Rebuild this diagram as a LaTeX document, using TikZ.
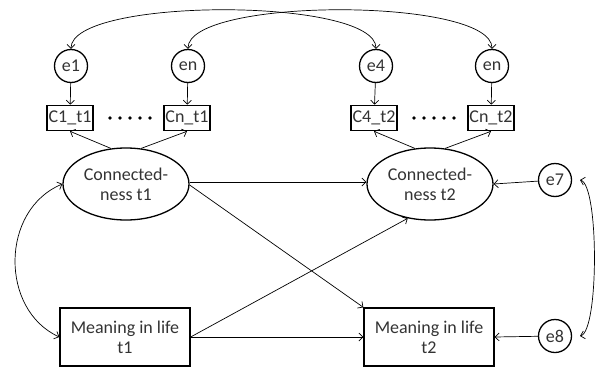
\documentclass[tikz,border=0pt]{standalone}
\usepackage{fontspec}
\setmainfont{Carlito}
\usetikzlibrary{arrows.meta,shapes.geometric}
\begin{document}
\begin{tikzpicture}[x=1pt,y=-1pt,
  every node/.style={font=\fontsize{18}{20}\selectfont, text=black!80},
  err/.style={circle,draw,line width=1.3pt,minimum size=33pt,inner sep=0pt},
  ind/.style={rectangle,draw,line width=1.6pt,minimum width=46pt,minimum height=25pt,inner sep=0pt},
  lat/.style={ellipse,draw,line width=1.3pt,minimum width=126pt,minimum height=72pt,align=center,inner sep=0pt},
  obs/.style={rectangle,draw,line width=1.3pt,minimum width=130pt,minimum height=58pt,align=center,inner sep=0pt},
  arr/.style={line width=0.7pt,-{Straight Barb[length=4pt,width=8pt]}},
  cov/.style={line width=0.7pt,{Straight Barb[length=4pt,width=8pt]}-{Straight Barb[length=4pt,width=8pt]}}
]
\useasboundingbox (0,0) rectangle (595,370);
\node[err] (e1) at (71,66) {e1};
\node[err] (ena) at (188,66) {en};
\node[err] (e4) at (376,66) {e4};
\node[err] (enb) at (492,66) {en};
\node[ind] (c1) at (70,118) {C1\_t1};
\node[ind] (cna) at (187,118) {Cn\_t1};
\node[ind] (c4) at (374,118) {C4\_t2};
\node[ind] (cnb) at (491,118) {Cn\_t2};
\foreach \x in {110,120,130,140,150} {\fill (\x,118) circle (1.8pt);}
\foreach \x in {414,424,434,444,454} {\fill (\x,118) circle (1.8pt);}
\node[lat] (l1) at (126,184) {Connected-\\ness t1};
\node[lat] (l2) at (430,184) {Connected-\\ness t2};
\node[obs] (m1) at (125,337) {Meaning in life\\t1};
\node[obs] (m2) at (429,337) {Meaning in life\\t2};
\node[err] (e7) at (555,180) {e7};
\node[err] (e8) at (555,336) {e8};
\coordinate (e7r) at (580,180);
\coordinate (e8r) at (580,336);

\draw[arr] (e1) -- (c1);
\draw[arr] (ena) -- (cna);
\draw[arr] (e4) -- (c4);
\draw[arr] (enb) -- (cnb);
\draw[arr] (l1.113) -- (c1.south);
\draw[arr] (l1.67) -- (cna.south);
\draw[arr] (l2.113) -- (c4.south);
\draw[arr] (l2.67) -- (cnb.south);
\draw[arr] (l1.east) ++(0,-2) coordinate (l1e) -- (l2.west |- l1e);
\draw[arr] (l1.east) ++(0,1) -- (m2.north west);
\draw[arr] (m1.east) -- (m2.west);
\draw[arr] (m1.east) -- (l2.237);
\draw[arr] (e7) -- (l2.east);
\draw[arr] (e8) -- (m2.east);
\draw[cov] (e1.north) .. controls (71,-3) and (376,-3) .. (e4.north);
\draw[cov] (ena.north) .. controls (188,-3) and (492,-3) .. (enb.north);
\draw[cov] (l1.west) .. controls (0,210) and (0,310) .. (m1.west);
\draw[cov] (e7r) .. controls (599,185) and (599,331) .. (e8r);
\end{tikzpicture}
\end{document}
